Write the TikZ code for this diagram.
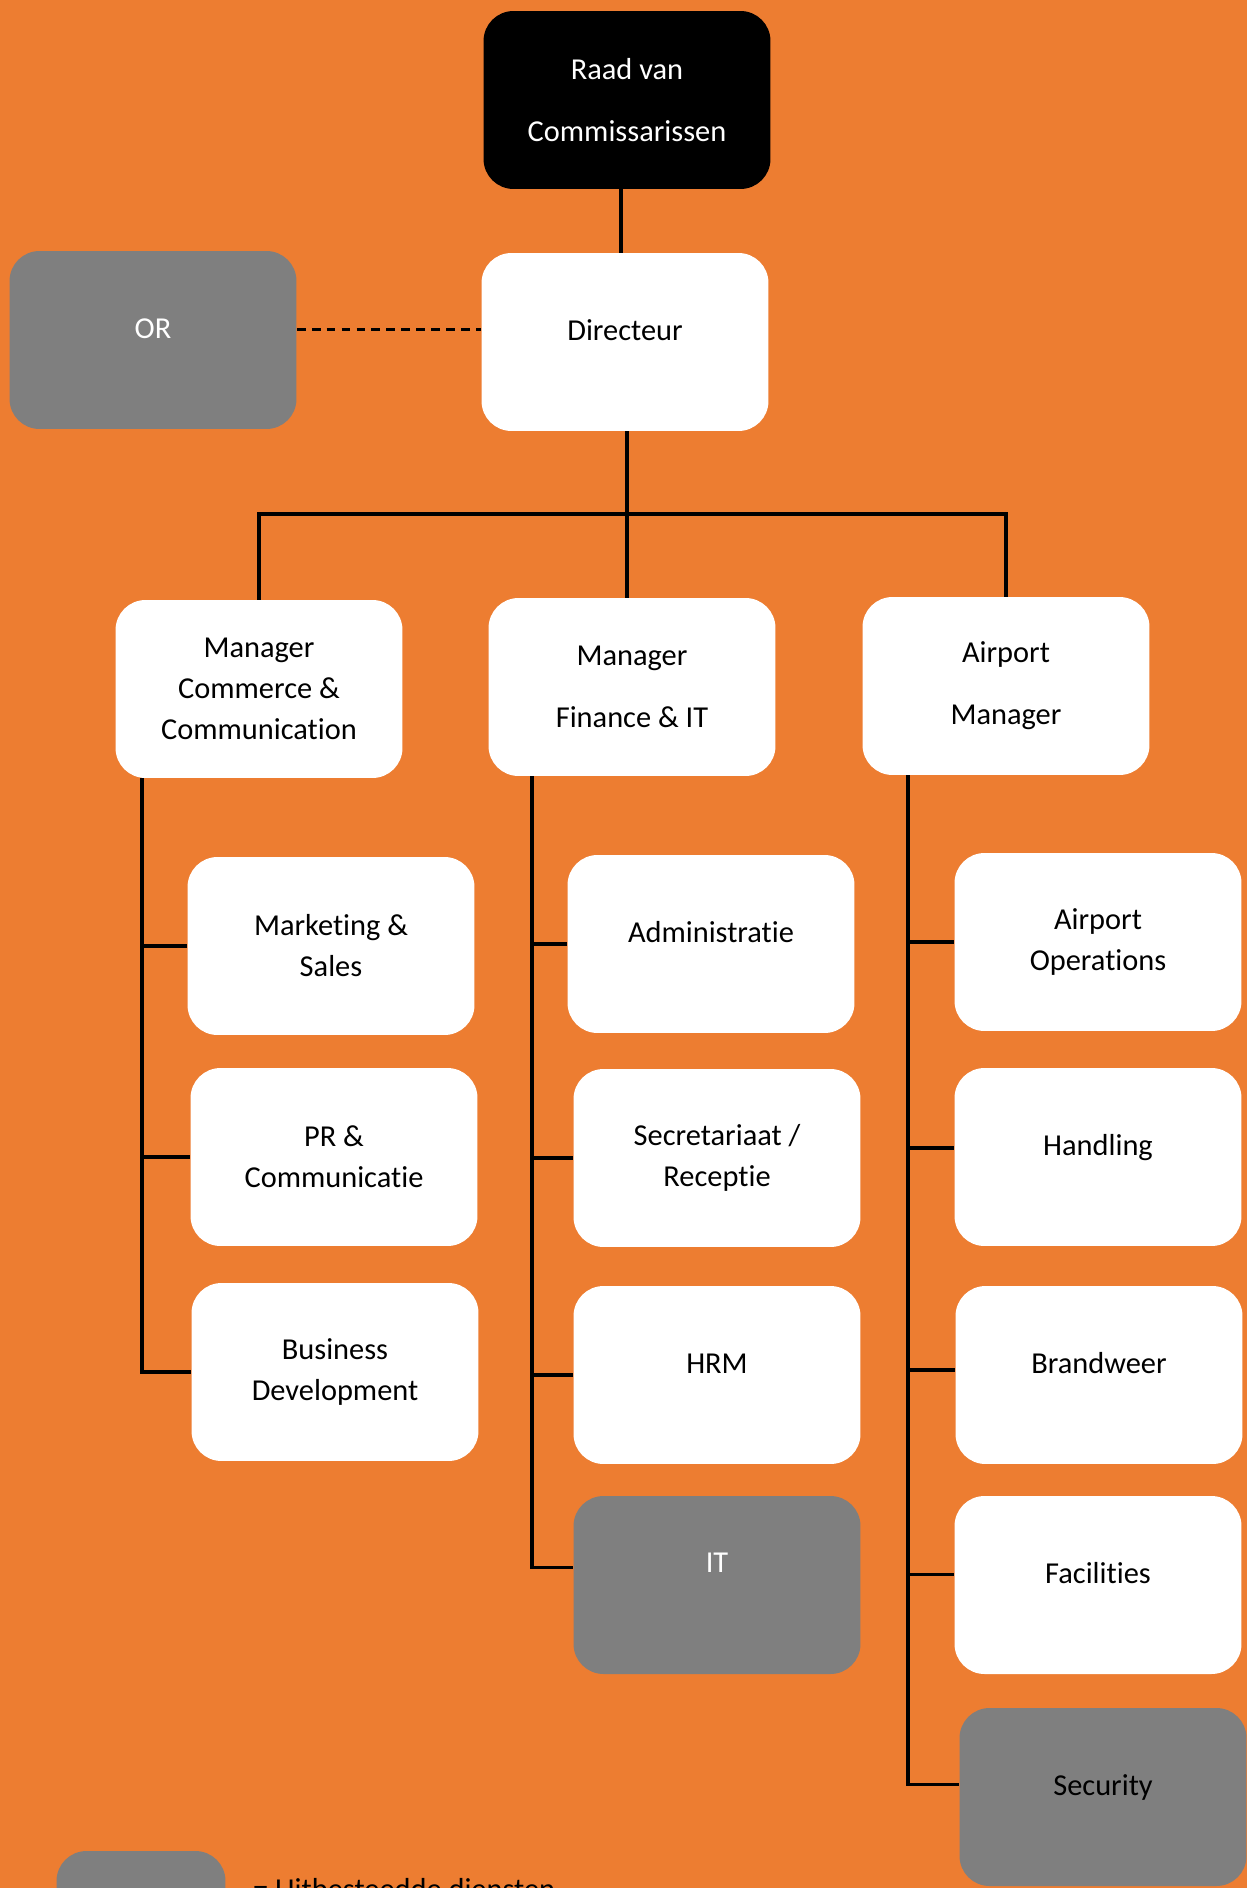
\documentclass[tikz,border=0pt]{standalone}
\usepackage{fontspec}
\setmainfont{Carlito}[Ligatures=NoCommon]
\definecolor{oranje}{HTML}{ED7D31}
\definecolor{grijs}{HTML}{7F7F7F}

\begin{document}
\begin{tikzpicture}[x=0.02cm, y=-0.02cm,
    every node/.style={font=\fontsize{17.3pt}{23.3pt}\selectfont},
    box/.style={rounded corners=0.6cm, minimum width=5.74cm, minimum height=3.56cm,
                inner sep=0pt, align=center, fill=white, text=black},
    grijsbox/.style={box, fill=grijs},
    zwartbox/.style={box, fill=black, text=white},
    eenregel/.style={text height=12pt, text depth=14pt},
    lijn/.style={line width=2pt, black}]
    % 1. 背景
    \useasboundingbox (0,0) rectangle (1247,1888);
    \clip (0,0) rectangle (1247,1888);
    \fill[oranje] (0,0) rectangle (1247,1888);

    % 2. 顶层
    \node[zwartbox] (raad) at (627,100) {Raad van\\[12pt]Commissarissen};
    \node[box, eenregel] (dir) at (625,342) {Directeur};
    \node[grijsbox, eenregel, text=white] (or) at (153,340) {OR};

    % 3. 经理
    \node[box] (mcc) at (259,689) {Manager\\Commerce \&\\Communication};
    \node[box] (mfi) at (632,687) {Manager\\[12pt]Finance \& IT};
    \node[box] (apm) at (1006,686) {Airport\\[12pt]Manager};

    % 4. 部门
    \node[box] (mks) at (331,946) {Marketing \&\\Sales};
    \node[box] (prc) at (334,1157) {PR \&\\Communicatie};
    \node[box] (bdv) at (335,1372) {Business\\Development};

    \node[box, eenregel] (adm) at (711,944) {Administratie};
    \node[box] (sec) at (717,1158) {Secretariaat /\\Receptie};
    \node[box, eenregel] (hrm) at (717,1375) {HRM};
    \node[grijsbox, eenregel, text=white, text depth=26pt] (it) at (717,1585) {IT};

    \node[box] (aop) at (1098,942) {Airport\\Operations};
    \node[box, eenregel] (hdl) at (1098,1157) {Handling};
    \node[box, eenregel] (brw) at (1099,1375) {Brandweer};
    \node[box, eenregel] (fac) at (1098,1585) {Facilities};
    \node[grijsbox, eenregel] (secu) at (1103,1797) {Security};

    % 5. 连线
    \draw[lijn] ([xshift=-0.12cm]raad.south) -- ([xshift=-0.12cm]raad.south |- dir.north);
    \draw[lijn, line width=1.5pt, dash pattern=on 5pt off 3.5pt]
        ([yshift=6pt]or.east) -- ([yshift=6pt]or.east -| dir.west);
    \coordinate (bus) at (627,514);
    \draw[lijn] (bus |- dir.south) -- (bus);
    \draw[lijn] (mcc.north) |- (apm.north |- bus) -- (apm.north);
    \draw[lijn] (bus) -- (bus |- mfi.north);

    \coordinate (s1) at ([xshift=0.54cm]mcc.south west);
    \coordinate (s2) at ([xshift=0.88cm]mfi.south west);
    \coordinate (s3) at ([xshift=0.92cm]apm.south west);
    \draw[lijn] (s1) |- (bdv.west);
    \draw[lijn] (s1 |- mks.west) -- (mks.west);
    \draw[lijn] (s1 |- prc.west) -- (prc.west);
    \draw[lijn] (s2) |- ([yshift=10pt]it.west);
    \draw[lijn] (s2 |- adm.west) -- (adm.west);
    \draw[lijn] (s2 |- sec.west) -- (sec.west);
    \draw[lijn] (s2 |- hrm.west) -- (hrm.west);
    \draw[lijn] (s3) |- ([yshift=7pt]secu.west);
    \draw[lijn] (s3 |- aop.west) -- (aop.west);
    \draw[lijn] ([yshift=5pt]s3 |- hdl.west) -- ([yshift=5pt]hdl.west);
    \draw[lijn] ([yshift=3pt]s3 |- brw.west) -- ([yshift=3pt]brw.west);
    \draw[lijn] ([yshift=6pt]s3 |- fac.west) -- ([yshift=6pt]fac.west);

    % 6. 图例
    \node[grijsbox, minimum width=3.38cm] (leg) at (141,1940) {};
    \node[anchor=base west] (legtekst) at (247,1899) {= Uitbesteedde diensten};
\end{tikzpicture}
\end{document}
